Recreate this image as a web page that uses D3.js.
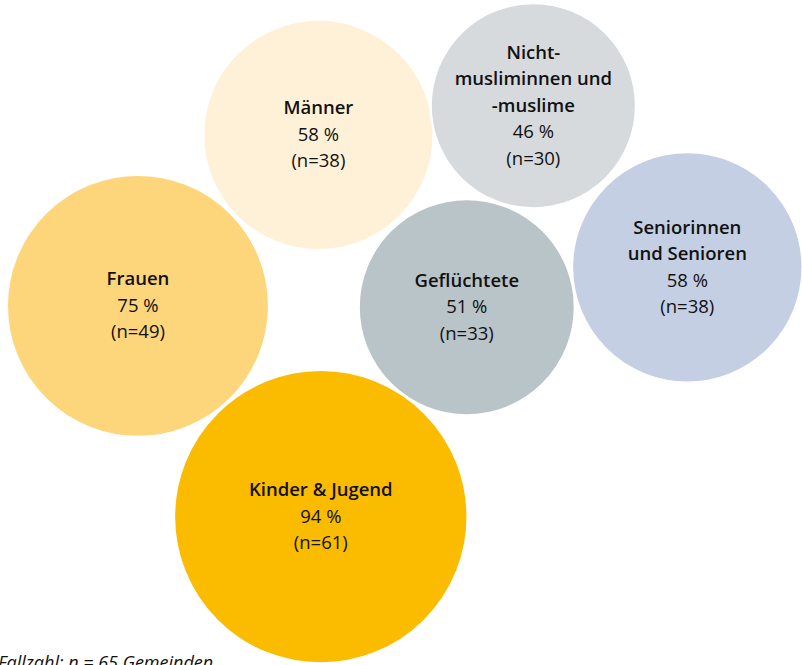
<!DOCTYPE html>
<html>
<head>
<meta charset="utf-8">
<script src="https://cdn.jsdelivr.net/npm/d3@7"></script>
<style>
  body { margin: 0; background: #fff; }
  svg { display: block; font-family: "Open Sans", sans-serif; }
</style>
</head>
<body>
<div class="bubbleChart"></div>
<script>
// Data
var groups  = ["Männer", "Nicht-musliminnen und -muslime", "Seniorinnen und Senioren", "Geflüchtete", "Frauen", "Kinder & Jugend"];
var labelLines = [["Männer"], ["Nicht-", "musliminnen und", "-muslime"], ["Seniorinnen", "und Senioren"], ["Geflüchtete"], ["Frauen"], ["Kinder & Jugend"]];
var percents = [58, 46, 58, 51, 75, 94];
var counts   = [38, 30, 38, 33, 49, 61];
var footnote = "Fallzahl: n = 65 Gemeinden";

// Layout: bubble centres on a 0..100 grid, and fill colours
var posX = [39.7, 66.5, 85.7, 58.2, 17.2, 40.0];
var posY = [20.3, 15.9, 40.2, 46.2, 46.0, 77.7];
var colors = ["#fef1d8", "#d6dadd", "#c4cfe3", "#b9c4c9", "#fdd67c", "#fbbc00"];

var width = 802, height = 665;

var svg = d3.select(".bubbleChart")
    .append("svg")
    .attr("width", width)
    .attr("height", height);

var x = d3.scaleLinear().domain([0, 100]).range([0, width]);
var y = d3.scaleLinear().domain([0, 100]).range([0, height]);
// bubble area proportional to the percentage
var r = d3.scaleSqrt().domain([0, 100]).range([0, 151.5]);

var data = groups.map(function(g, i) {
    return { name: g, lines: labelLines[i], pct: percents[i], n: counts[i], cx: posX[i], cy: posY[i], color: colors[i] };
});

var lineH = 26.5;

var node = svg.selectAll("g.bubble")
    .data(data)
    .enter()
    .append("g")
    .attr("class", "bubble")
    .attr("transform", function(d) { return "translate(" + x(d.cx) + "," + y(d.cy) + ")"; });

node.append("circle")
    .attr("r", function(d) { return r(d.pct); })
    .attr("fill", function(d) { return d.color; })
    .attr("stroke", "#fff")
    .attr("stroke-width", 2.5);

var text = node.append("text")
    .attr("text-anchor", "middle")
    .attr("fill", "#111")
    .style("font-size", "18.5px");

text.each(function(d) {
    var all = d.lines.map(function(l) { return { t: l, head: true }; })
        .concat([{ t: d.pct + " %", head: false }, { t: "(n=" + d.n + ")", head: false }]);
    var first = -(all.length - 1) / 2 * lineH + 6;
    d3.select(this).selectAll("tspan")
        .data(all)
        .enter()
        .append("tspan")
        .attr("x", 0)
        .attr("y", function(l, i) { return first + i * lineH; })
        .style("font-weight", function(l) { return l.head ? 600 : 400; })
        .text(function(l) { return l.t; });
});

// footnote, mostly cut off by the bottom edge
svg.append("text")
    .attr("x", -2)
    .attr("y", 669)
    .style("font-size", "18px")
    .style("font-style", "italic")
    .attr("fill", "#111")
    .text(footnote);
</script>
</body>
</html>
